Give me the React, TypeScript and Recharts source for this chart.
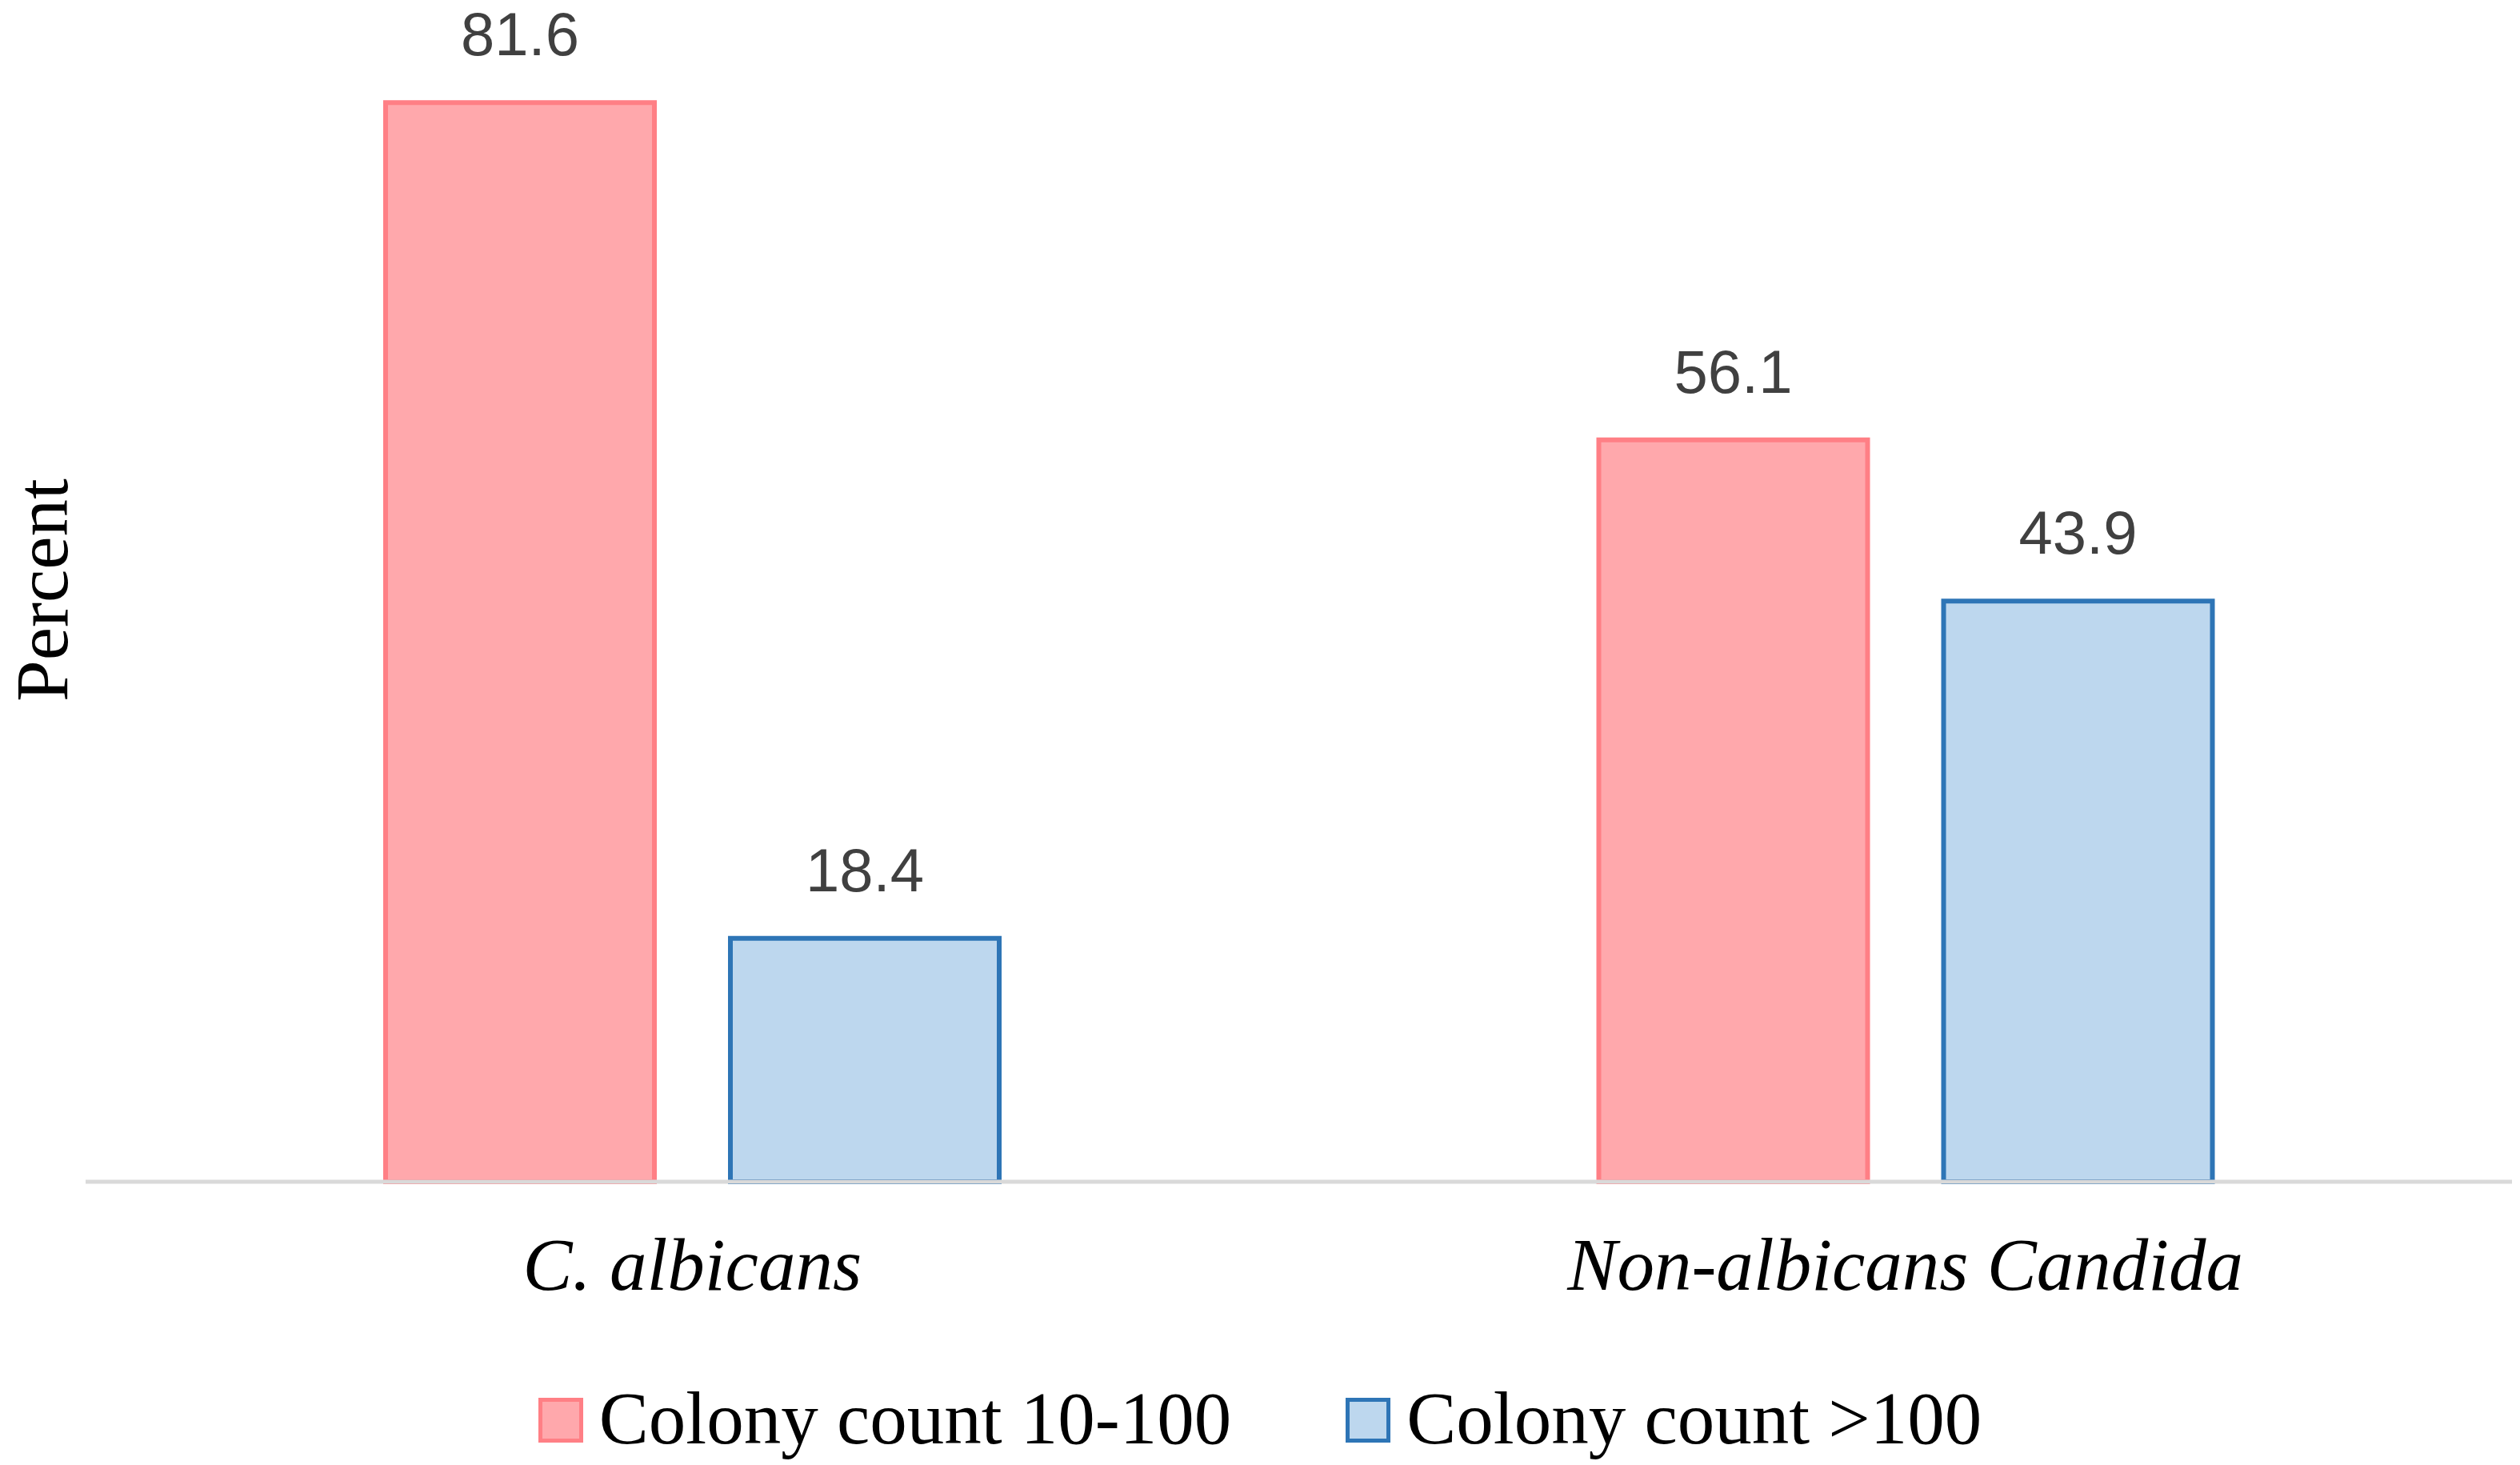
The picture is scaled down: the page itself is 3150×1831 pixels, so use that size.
import React from 'react';
import { BarChart, Bar, XAxis, YAxis, Legend, LabelList } from 'recharts';

const categories = ['C. albicans', 'Non-albicans Candida'];
const colony10to100 = [81.6, 56.1];
const colonyOver100 = [18.4, 43.9];
const seriesNames = ['Colony count 10-100', 'Colony count >100'];

const pinkFill = '#FFA8AC';
const pinkStroke = '#FF7F85';
const blueFill = '#BDD7EE';
const blueStroke = '#2E75B6';

const serif = "'Liberation Serif', 'Times New Roman', serif";
const sans = "'Liberation Sans', Arial, sans-serif";

const data = categories.map((name, i) => ({
    name,
    low: colony10to100[i],
    high: colonyOver100[i],
}));

const legendItems = [
    { name: seriesNames[0], fill: pinkFill, stroke: pinkStroke },
    { name: seriesNames[1], fill: blueFill, stroke: blueStroke },
];

const PercentLabel = (props: any) => {
    const { viewBox } = props;
    const cx = viewBox.x + 52;
    const cy = viewBox.y + viewBox.height / 2 - 37;
    return (
        <text
            x={cx}
            y={cy}
            transform={`rotate(-90, ${cx}, ${cy})`}
            textAnchor="middle"
            dominantBaseline="central"
            fontFamily={serif}
            fontSize={93}
            fill="#000"
        >
            Percent
        </text>
    );
};

const ChartLegend = () => (
    <div
        style={{
            height: 160,
            boxSizing: 'border-box',
            paddingTop: 42,
            display: 'flex',
            justifyContent: 'center',
            alignItems: 'center',
        }}
    >
        {legendItems.map((item, index) => (
            <div
                key={`legend-${index}`}
                style={{
                    display: 'flex',
                    alignItems: 'center',
                    marginLeft: index === 0 ? 0 : 143,
                }}
            >
                <span
                    style={{
                        display: 'inline-block',
                        width: 46,
                        height: 46,
                        background: item.fill,
                        border: `5px solid ${item.stroke}`,
                        marginRight: 20,
                        marginTop: 6,
                    }}
                />
                <span
                    style={{
                        fontFamily: serif,
                        fontSize: 93,
                        lineHeight: 1,
                        color: '#000',
                    }}
                >
                    {item.name}
                </span>
            </div>
        ))}
    </div>
);

const App: React.FC = () => {
    return (
        <div style={{ position: 'absolute', left: 0, top: 0, width: 3150, height: 1831, background: '#fff' }}>
            <BarChart
                width={3150}
                height={1831}
                data={data}
                margin={{ top: 72, right: 10, left: 0, bottom: 0 }}
                barGap={95}
            >
                <YAxis
                    width={107}
                    domain={[0, 85]}
                    tick={false}
                    tickLine={false}
                    axisLine={false}
                    label={<PercentLabel />}
                />
                <XAxis
                    dataKey="name"
                    height={194}
                    interval={0}
                    tickLine={false}
                    tickSize={0}
                    tickMargin={69}
                    axisLine={{ stroke: '#D9D9D9', strokeWidth: 5 }}
                    tick={{ fontFamily: serif, fontSize: 93, fontStyle: 'italic', fill: '#000' }}
                />
                <Legend
                    verticalAlign="bottom"
                    height={160}
                    wrapperStyle={{ left: 0, width: 3150, bottom: 0 }}
                    content={<ChartLegend />}
                />
                <Bar
                    dataKey="low"
                    name={seriesNames[0]}
                    barSize={336}
                    fill={pinkFill}
                    stroke={pinkStroke}
                    strokeWidth={6}
                    isAnimationActive={false}
                >
                    <LabelList
                        dataKey="low"
                        position="top"
                        offset={59}
                        fill="#404040"
                        fontSize={76}
                        fontFamily={sans}
                    />
                </Bar>
                <Bar
                    dataKey="high"
                    name={seriesNames[1]}
                    barSize={336}
                    fill={blueFill}
                    stroke={blueStroke}
                    strokeWidth={6}
                    isAnimationActive={false}
                >
                    <LabelList
                        dataKey="high"
                        position="top"
                        offset={59}
                        fill="#404040"
                        fontSize={76}
                        fontFamily={sans}
                    />
                </Bar>
            </BarChart>
        </div>
    );
};

export default App;
